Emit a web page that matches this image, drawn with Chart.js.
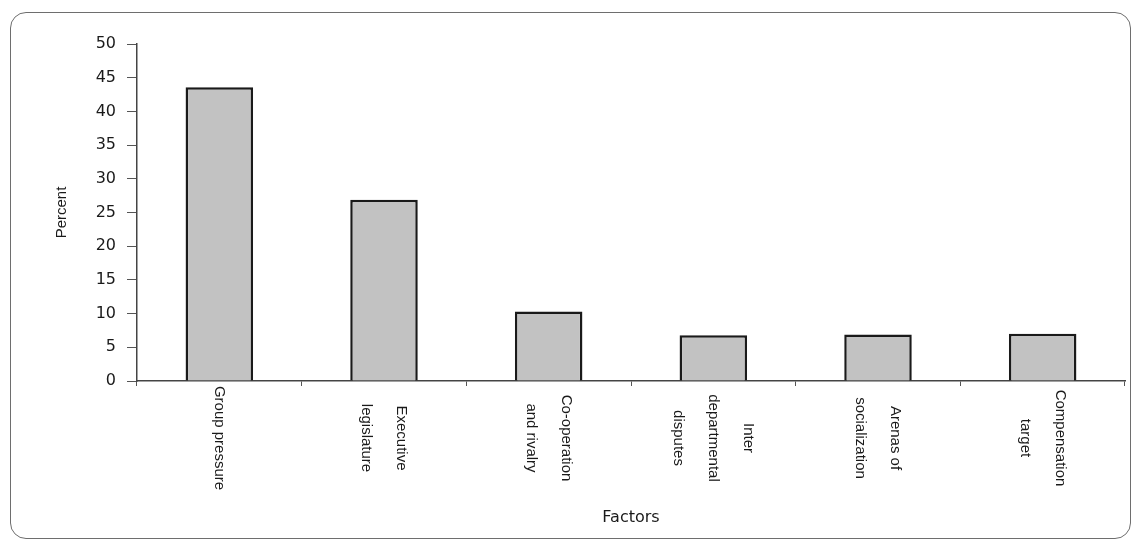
<!DOCTYPE html>
<html>
<head>
<meta charset="utf-8">
<script src="https://cdn.jsdelivr.net/npm/chart.js@4/dist/chart.umd.min.js"></script>
<style>
  html, body { margin: 0; padding: 0; background: #fff; }
  #frame { position: absolute; left: 10px; top: 12px; width: 1121px; height: 527px;
           border: 1.5px solid #6e6e6e; border-radius: 16px; box-sizing: border-box; }
  #wrap { position: absolute; left: 0; top: 0; width: 1136px; height: 546px; }
</style>
</head>
<body>
<div id="frame"></div>
<div id="wrap"><canvas id="c" width="1136" height="546"></canvas></div>
<script>
// ---- data ----
const categories = [
  ["Group pressure"],
  ["Executive", "legislature"],
  ["Co-operation", "and rivalry"],
  ["Inter", "departmental", "disputes"],
  ["Arenas of", "socialization"],
  ["Compensation", "target"]
];
const percentValues = [43.6, 26.9, 10.3, 6.8, 6.9, 7.0];
const yTickValues = [0, 5, 10, 15, 20, 25, 30, 35, 40, 45, 50];
const yTitle = "Percent";
const xTitle = "Factors";

const rotatedLabels = {
  id: 'rotatedLabels',
  afterDraw(chart) {
    const xs = chart.scales.x;
    const ctx = chart.ctx;
    ctx.save();
    ctx.font = '15px "Liberation Sans", Arial, sans-serif';
    ctx.fillStyle = '#1a1a1a';
    ctx.textAlign = 'center';
    ctx.textBaseline = 'middle';
    const spacing = 35;
    const yc = 438;
    categories.forEach((lines, i) => {
      const x = xs.getPixelForValue(i);
      ctx.save();
      ctx.translate(x, yc);
      ctx.rotate(Math.PI / 2);
      const n = lines.length;
      lines.forEach((t, j) => {
        const ly = -((n - 1) / 2 - j) * spacing;
        ctx.fillText(t, 0, ly);
      });
      ctx.restore();
    });
    ctx.restore();
  }
};

new Chart(document.getElementById('c'), {
  type: 'bar',
  data: {
    labels: categories.map(l => l.join(' ')),
    datasets: [{
      data: percentValues,
      backgroundColor: '#c2c2c2',
      borderColor: '#1a1a1a',
      borderWidth: 2.5,
      borderSkipped: 'bottom',
      barPercentage: 0.41,
      categoryPercentage: 1.0
    }]
  },
  options: {
    responsive: false,
    animation: false,
    layout: { padding: { top: 44, right: 11, left: 0, bottom: 0 } },
    plugins: { legend: { display: false }, tooltip: { enabled: false } },
    scales: {
      x: {
        grid: { display: true, drawOnChartArea: false, drawTicks: true, tickLength: 5, color: '#555', offset: true },
        border: { display: true, color: '#444', width: 1.5 },
        ticks: { display: false },
        title: { display: true, text: xTitle, color: '#1a1a1a',
                 font: { family: '"DejaVu Sans", sans-serif', size: 16 }, padding: { top: 0, bottom: 19 } },
        afterFit: s => { s.height = 546 - 381; }
      },
      y: {
        min: 0, max: 50,
        afterBuildTicks: s => { s.ticks = yTickValues.map(v => ({ value: v })); },
        grid: { display: true, drawOnChartArea: false, drawTicks: true, tickLength: 10, color: '#555' },
        border: { display: true, color: '#444', width: 1.5 },
        ticks: { color: '#1a1a1a', padding: 11,
                 font: { family: '"DejaVu Sans", sans-serif', size: 16 } },
        title: { display: true, text: yTitle, color: '#1a1a1a',
                 font: { family: '"Liberation Sans", Arial, sans-serif', size: 15 }, padding: { top: 53, bottom: 0 } },
        afterFit: s => { s.width = 137; }
      }
    }
  },
  plugins: [rotatedLabels]
});
</script>
</body>
</html>
